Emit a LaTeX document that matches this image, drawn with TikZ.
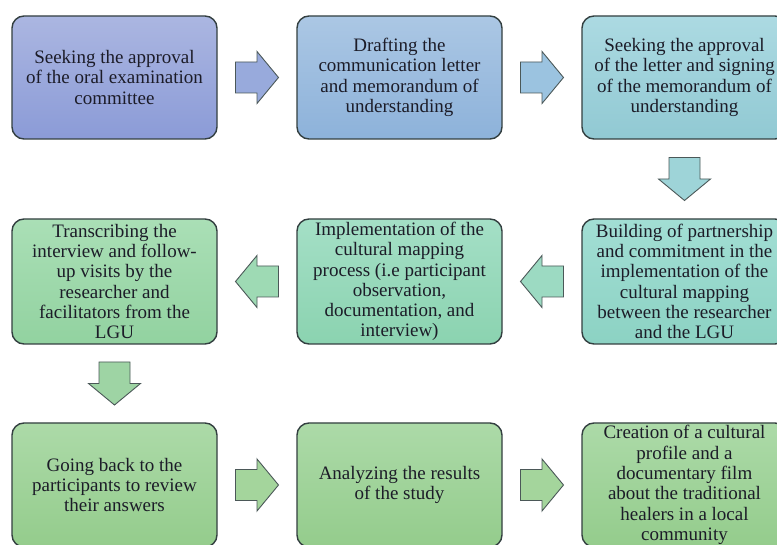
\documentclass[tikz,border=0pt]{standalone}
\usepackage{fontspec}
\setmainfont{Liberation Serif}
\usetikzlibrary{calc}
\definecolor{bordc}{HTML}{333F40}
\definecolor{arrc}{HTML}{4B5858}
\definecolor{txtc}{HTML}{1C1C28}
\tikzset{
  box/.style={draw=bordc, line width=1.4pt, rounded corners=12pt,
    minimum width=205pt, inner sep=1pt, align=center, text=txtc,
    font=\fontsize{19}{20.3}\selectfont},
  blockarrow/.pic={\draw[draw=arrc, line width=0.9pt, pic actions]
    (-21.5,-15.5) -- (0,-15.5) -- (0,-26) -- (21.5,0) -- (0,26) -- (0,15.5) -- (-21.5,15.5) -- cycle;}
}
\begin{document}
\begin{tikzpicture}[x=1pt,y=1pt]
\fill[white] (0,0) rectangle (777,-545);
\useasboundingbox (0,0) rectangle (777,-545);
% row 1
\node[box, minimum height=123pt, top color={rgb,255:red,171;green,182;blue,225}, bottom color={rgb,255:red,139;green,155;blue,215}] (b1) at (114.5,-77.5)
  {Seeking the approval\\of the oral examination\\committee};
\node[box, minimum height=123pt, top color={rgb,255:red,171;green,199;blue,228}, bottom color={rgb,255:red,141;green,178;blue,218}] (b2) at (399.5,-77.5)
  {Drafting the\\communication letter\\and memorandum of\\understanding};
\node[box, minimum height=123pt, top color={rgb,255:red,172;green,218;blue,226}, bottom color={rgb,255:red,145;green,201;blue,211}] (b3) at (684.5,-77.5)
  {Seeking the approval\\of the letter and signing\\of the memorandum of\\understanding};
% row 2
\node[box, minimum height=125pt, top color={rgb,255:red,162;green,222;blue,212}, bottom color={rgb,255:red,140;green,210;blue,195}] (b4) at (684.5,-281.5)
  {Building of partnership\\and commitment in the\\implementation of the\\cultural mapping\\between the researcher\\and the LGU};
\node[box, minimum height=125pt, top color={rgb,255:red,164;green,223;blue,198}, bottom color={rgb,255:red,139;green,211;blue,176}] (b5) at (399.5,-281.5)
  {Implementation of the\\cultural mapping\\process (i.e participant\\observation,\\documentation, and\\interview)};
\node[box, minimum height=125pt, top color={rgb,255:red,170;green,223;blue,182}, bottom color={rgb,255:red,146;green,210;blue,160}] (b6) at (114.5,-281.5)
  {Transcribing the\\interview and follow-\\up visits by the\\researcher and\\facilitators from the\\LGU};
% row 3
\node[box, minimum height=124pt, top color={rgb,255:red,172;green,218;blue,168}, bottom color={rgb,255:red,148;green,204;blue,140}] (b7) at (114.5,-485)
  {Going back to the\\participants to review\\their answers};
\node[box, minimum height=124pt, top color={rgb,255:red,172;green,218;blue,168}, bottom color={rgb,255:red,148;green,204;blue,140}] (b8) at (399.5,-485)
  {Analyzing the results\\of the study};
\node[box, minimum height=124pt, top color={rgb,255:red,172;green,218;blue,168}, bottom color={rgb,255:red,148;green,204;blue,140}] (b9) at (684.5,-485)
  {Creation of a cultural\\profile and a\\documentary film\\about the traditional\\healers in a local\\community};
% arrows
\pic[fill={rgb,255:red,152;green,170;blue,220}] at ($(b1.east)!0.5!(b2.west)$) {blockarrow};
\pic[fill={rgb,255:red,155;green,195;blue,224}] at ($(b2.east)!0.5!(b3.west)$) {blockarrow};
\pic[fill={rgb,255:red,158;green,212;blue,216}, rotate=-90] at ($(b3.south)!0.5!(b4.north)$) {blockarrow};
\pic[fill={rgb,255:red,156;green,218;blue,194}, rotate=180] at ($(b4.west)!0.5!(b5.east)$) {blockarrow};
\pic[fill={rgb,255:red,158;green,218;blue,180}, rotate=180] at ($(b5.west)!0.5!(b6.east)$) {blockarrow};
\pic[fill={rgb,255:red,158;green,212;blue,164}, rotate=-90] at ($(b6.south)!0.5!(b7.north)$) {blockarrow};
\pic[fill={rgb,255:red,164;green,213;blue,156}] at ($(b7.east)!0.5!(b8.west)$) {blockarrow};
\pic[fill={rgb,255:red,164;green,213;blue,156}] at ($(b8.east)!0.5!(b9.west)$) {blockarrow};
\end{tikzpicture}
\end{document}
